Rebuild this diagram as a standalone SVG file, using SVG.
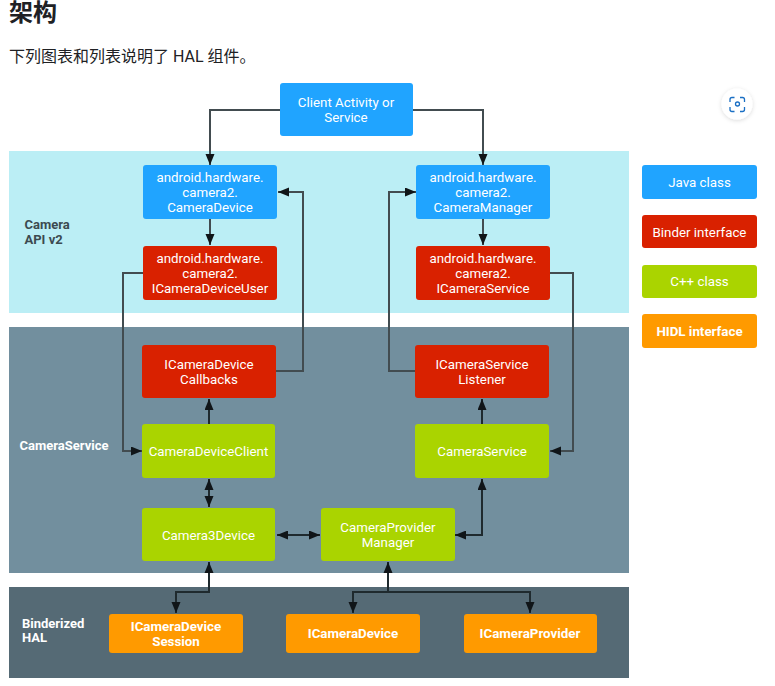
<svg xmlns="http://www.w3.org/2000/svg" width="775" height="686" viewBox="0 0 775 686">
<style>
.t{font-family:Roboto,"Liberation Sans",sans-serif;font-size:13.33px;fill:#fff;text-anchor:middle}
.b{font-weight:700}
.l{font-family:Roboto,"Liberation Sans",sans-serif;font-size:13px;font-weight:700}
.c{fill:none;stroke:#424c50;stroke-width:2;marker-end:url(#a)}
.k{stroke:#1f2a2e}
.d{marker-start:url(#s)}
.j{fill:#20a4ff}.r{fill:#d92100}.g{fill:#aad400}.o{fill:#ff9a00}
</style>
<defs>
<marker id="a" markerUnits="userSpaceOnUse" markerWidth="12" markerHeight="10" refX="11" refY="4.500" orient="auto"><path d="M0 0L11 4.500L0 9z" fill="#101518"/></marker>
<marker id="s" markerUnits="userSpaceOnUse" markerWidth="12" markerHeight="10" refX="0" refY="4.500" orient="auto"><path d="M11 0L0 4.500L11 9z" fill="#101518"/></marker>
<filter id="sh" x="-30%" y="-30%" width="160%" height="160%"><feDropShadow dx="0" dy="1" stdDeviation="2" flood-color="#000" flood-opacity=".15"/></filter>
</defs>
<rect width="775" height="686" fill="#fff"/>
<text x="9" y="21" font-family="'Noto Sans CJK SC',sans-serif" font-size="24" font-weight="700" fill="#202124">架构</text>
<text x="9" y="62" font-family="Roboto,'Noto Sans CJK SC',sans-serif" font-size="16" fill="#202124">下列图表和列表说明了 HAL 组件。</text>
<g id="bands">
<rect x="9" y="151" width="620" height="162" fill="#bbeef5"/>
<rect x="9" y="327" width="620" height="246" fill="#728f9e"/>
<rect x="9" y="587" width="620" height="91" fill="#556a75"/>
<text class="l" fill="#3c4a50"><tspan x="24.500" y="229">Camera</tspan><tspan x="24.500" y="244">API v2</tspan></text>
<text class="l" fill="#fff" x="19.500" y="450">CameraService</text>
<text class="l" fill="#fff"><tspan x="22" y="628">Binderized</tspan><tspan x="22" y="642">HAL</tspan></text>
</g>
<g id="connectors">
<path class="c" d="M280 110H210V165"/>
<path class="c" d="M413 110H483V165"/>
<path class="c" d="M210 219V245"/>
<path class="c" d="M483 219V245"/>
<path class="c" d="M143 273H123V451H142"/>
<path class="c" d="M276 371H303V192H278"/>
<path class="c" d="M415 371H389V192H416"/>
<path class="c" d="M550 273H573V451H550"/>
<path class="c k" d="M209 424V399"/>
<path class="c k" d="M482 424V399"/>
<path class="c k d" d="M209 479V507"/>
<path class="c k d" d="M277 535H320"/>
<path class="c k d" d="M455 535H482V479"/>
<path class="c k d" d="M209 562V592H176V613"/>
<path class="c k d" d="M388 562V592H353V613"/>
<path class="c k" d="M388 592H530V613"/>
</g>
<g id="client"><rect class="j" x="280" y="83" width="133" height="53" rx="3"/><text class="t"><tspan x="346" y="107">Client Activity or</tspan><tspan x="346" y="122">Service</tspan></text></g>
<g id="cameradevice"><rect class="j" x="143" y="165" width="134" height="54" rx="3"/><text class="t"><tspan x="210" y="182">android.hardware.</tspan><tspan x="210" y="197">camera2.</tspan><tspan x="210" y="212">CameraDevice</tspan></text></g>
<g id="icameradeviceuser"><rect class="r" x="143" y="246" width="134" height="54" rx="3"/><text class="t"><tspan x="210" y="263">android.hardware.</tspan><tspan x="210" y="278">camera2.</tspan><tspan x="210" y="293">ICameraDeviceUser</tspan></text></g>
<g id="cameramanager"><rect class="j" x="416" y="165" width="134" height="54" rx="3"/><text class="t"><tspan x="483" y="182">android.hardware.</tspan><tspan x="483" y="197">camera2.</tspan><tspan x="483" y="212">CameraManager</tspan></text></g>
<g id="icameraservice"><rect class="r" x="416" y="246" width="134" height="54" rx="3"/><text class="t"><tspan x="483" y="263">android.hardware.</tspan><tspan x="483" y="278">camera2.</tspan><tspan x="483" y="293">ICameraService</tspan></text></g>
<g id="callbacks"><rect class="r" x="142" y="345" width="134" height="53" rx="3"/><text class="t"><tspan x="209" y="369">ICameraDevice</tspan><tspan x="209" y="384">Callbacks</tspan></text></g>
<g id="listener"><rect class="r" x="415" y="345" width="134" height="53" rx="3"/><text class="t"><tspan x="482" y="369">ICameraService</tspan><tspan x="482" y="384">Listener</tspan></text></g>
<g id="cameradeviceclient"><rect class="g" x="142" y="424" width="133" height="54" rx="3"/><text class="t" x="208.500" y="456">CameraDeviceClient</text></g>
<g id="cameraservice"><rect class="g" x="415" y="424" width="134" height="54" rx="3"/><text class="t" x="482" y="456">CameraService</text></g>
<g id="camera3device"><rect class="g" x="142" y="508" width="133" height="53" rx="3"/><text class="t" x="208.500" y="540">Camera3Device</text></g>
<g id="providermanager"><rect class="g" x="321" y="508" width="134" height="53" rx="3"/><text class="t"><tspan x="388" y="532">CameraProvider</tspan><tspan x="388" y="547">Manager</tspan></text></g>
<g id="session"><rect class="o" x="109" y="614" width="134" height="39" rx="3"/><text class="t b"><tspan x="176" y="631">ICameraDevice</tspan><tspan x="176" y="646">Session</tspan></text></g>
<g id="icameradevice"><rect class="o" x="286" y="614" width="134" height="39" rx="3"/><text class="t b" x="353" y="638">ICameraDevice</text></g>
<g id="icameraprovider"><rect class="o" x="464" y="614" width="133" height="39" rx="3"/><text class="t b" x="530" y="638">ICameraProvider</text></g>
<g id="legend-java"><rect class="j" x="642" y="165" width="115" height="34" rx="3"/><text class="t" x="699.500" y="187">Java class</text></g>
<g id="legend-binder"><rect class="r" x="642" y="215" width="115" height="33" rx="3"/><text class="t" x="699.500" y="237">Binder interface</text></g>
<g id="legend-cpp"><rect class="g" x="642" y="265" width="115" height="33" rx="3"/><text class="t" x="699.500" y="286">C++ class</text></g>
<g id="legend-hidl"><rect class="o" x="642" y="314" width="115" height="34" rx="3"/><text class="t b" x="699.500" y="336">HIDL interface</text></g>
<g id="lens">
<circle cx="737" cy="104" r="15.500" fill="#fff" filter="url(#sh)"/>
<path d="M730 102V99.500a2 2 0 0 1 2-2h2.500M740 97.500h2.500a2 2 0 0 1 2 2V102M744.500 107v2.500a2 2 0 0 1-2 2H740M734.500 111.500H732a2 2 0 0 1-2-2V107" fill="none" stroke="#1a6fc4" stroke-width="1.300"/>
<circle cx="737.500" cy="104" r="2" fill="none" stroke="#1a6fc4" stroke-width="1.300"/>
</g>
</svg>
